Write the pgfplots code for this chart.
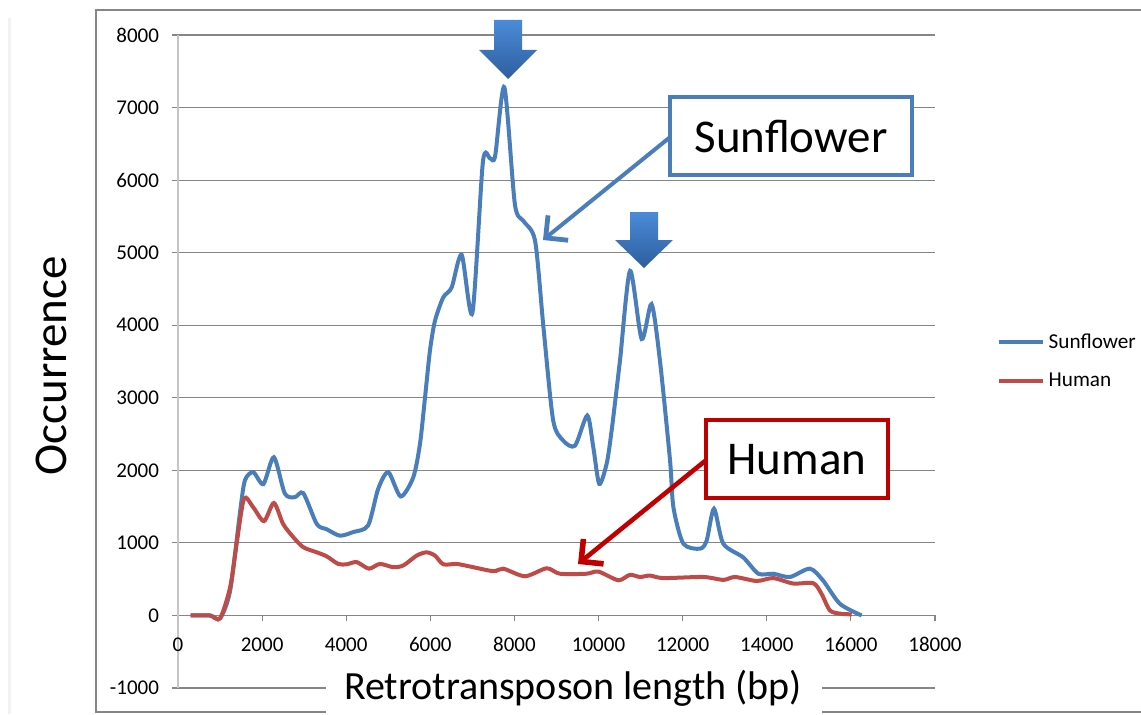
\documentclass[border=0pt]{standalone}
\usepackage{fontspec}
\setmainfont{Carlito}
\usepackage{pgfplots}
\pgfplotsset{compat=1.18}
\usetikzlibrary{arrows.meta}
\definecolor{sunblue}{HTML}{4A7EBB}
\definecolor{humred}{HTML}{BE4B48}
\definecolor{boxred}{HTML}{C00000}
\definecolor{gridgray}{HTML}{868686}
\definecolor{arrtop}{HTML}{4A8BD8}
\definecolor{arrbot}{HTML}{2E5E9E}
\begin{document}
\begin{tikzpicture}
\useasboundingbox (0,0) rectangle (570.5pt,357pt);
\begin{scope}[x=0.5pt,y=-0.5pt,yshift=357pt]
 \fill[gray!10] (8,18) rectangle (11,714);
 \draw[gridgray, line width=1pt] (1150,10) -- (96,10) -- (96,712) -- (1150,712);
\end{scope}
\begin{axis}[at={(89pt,13pt)}, anchor=south west, scale only axis,
 width=378.5pt, height=326.5pt,
 xmin=0, xmax=18000, ymin=-1000, ymax=8000,
 axis x line=middle, axis y line=left, axis line style={-},
 x axis line style={gridgray, line width=0.6pt},
 y axis line style={gray!45, line width=0.9pt},
 xtick={0,2000,...,18000}, ytick={-1000,0,...,8000},
 tick align=outside, major tick length=3pt,
 tick style={gridgray, line width=0.6pt},
 ymajorgrids, grid style={gridgray, line width=0.6pt},
 hide obscured x ticks=false, hide obscured y ticks=false,
 scaled ticks=false,
 /pgf/number format/1000 sep={},
 /pgf/number format/assume math mode=true,
 tick label style={font=\fontsize{10.5}{12}\selectfont},
 xticklabel style={yshift=-4.5pt}, yticklabel style={xshift=-3pt},
 legend style={at={(1.073,0.5)}, anchor=west, draw=none, fill=none,
   font=\fontsize{10.6}{12}\selectfont, row sep=7pt},
 legend cell align=left,
 legend image code/.code={\draw[#1] (0pt,0pt) -- (22pt,0pt);},
 clip=false,
]
\addplot[sunblue, line width=2pt, smooth, tension=0.45] coordinates {
(300,0) (760,0) (1000,-40) (1240,340) (1470,1400) (1590,1860) (1790,1975)
(2030,1810) (2280,2180) (2540,1680) (2780,1630) (2980,1685) (3300,1260)
(3530,1190) (3850,1100) (4170,1150) (4520,1240) (4760,1745) (5000,1975)
(5295,1640) (5595,1905) (5754,2365) (5873,3000) (5991,3650) (6110,4060)
(6308,4385) (6507,4520) (6745,4970) (7000,4170) (7250,6250) (7420,6300) (7540,6330) (7760,7280)
(8010,5670) (8210,5440) (8490,5165) (8690,3970) (8920,2690) (9160,2410)
(9440,2340) (9732,2755) (9875,2318) (10017,1814) (10192,2090) (10311,2548)
(10509,3512)
(10750,4750) (11025,3810) (11260,4290) (11460,3510) (11700,2135) (11780,1490)
(12015,990) (12410,920) (12570,1030) (12745,1470) (12965,990) (13440,800)
(13800,575) (14155,575) (14550,530) (15025,645) (15340,480) (15740,160)
(16255,0)};
\addlegendentry{Sunflower}
\addplot[humred, line width=2pt, smooth, tension=0.45] coordinates {
(300,0) (760,0) (1000,-40) (1240,390) (1395,990) (1570,1610) (1790,1490)
(2045,1300) (2280,1550) (2500,1260) (2740,1080) (2980,940) (3300,870)
(3535,815) (3810,710) (4010,705) (4250,735) (4540,645) (4800,710) (5120,665)
(5360,690) (5675,825) (5910,870) (6110,825) (6310,705) (6625,710) (6940,675)
(7500,610) (7735,645) (8250,540) (8765,650) (9080,575) (9715,575) (9995,605)
(10470,485) (10745,560) (10985,530) (11220,550) (11540,515) (12490,530)
(12965,490) (13245,530) (13760,475) (14155,515) (14630,440) (15105,445)
(15300,300) (15500,70) (15740,25) (16020,15)};
\addlegendentry{Human}
\end{axis}
\begin{scope}[x=0.5pt,y=-0.5pt,yshift=357pt]
 \fill[white] (326,658) rectangle (822,716);
 \node[font=\fontsize{20}{24}\selectfont, anchor=base] at (573,699) {Retrotransposon length (bp)};
 \node[font=\fontsize{23.5}{28}\selectfont, rotate=90, anchor=base] at (66,366) {Occurrence};
 \shade[top color=arrtop, bottom color=arrbot] (494,20) -- (522,20) -- (522,50) -- (537,50) -- (508,79) -- (479,50) -- (494,50) -- cycle;
 \shade[top color=arrtop, bottom color=arrbot] (630,212) -- (658,212) -- (658,240) -- (673,240) -- (644,268) -- (615,240) -- (630,240) -- cycle;
 \draw[sunblue, line width=2pt, -{Straight Barb[length=8pt,width=16pt,line width=2.4pt]}] (669,138) -- (543,240);
 \draw[sunblue, line width=1.6pt, fill=white] (670,97) rectangle (912,175);
 \node[font=\fontsize{23.5}{28}\selectfont] at (791,136) {Sunflower};
 \draw[boxred, line width=2.3pt, -{Straight Barb[length=8pt,width=16pt,line width=2.8pt]}] (705,461) -- (578,564);
 \draw[boxred, line width=1.6pt, fill=white] (706,420) rectangle (888,498);
 \node[font=\fontsize{23.5}{28}\selectfont] at (797,460) {Human};
\end{scope}
\end{tikzpicture}
\end{document}
